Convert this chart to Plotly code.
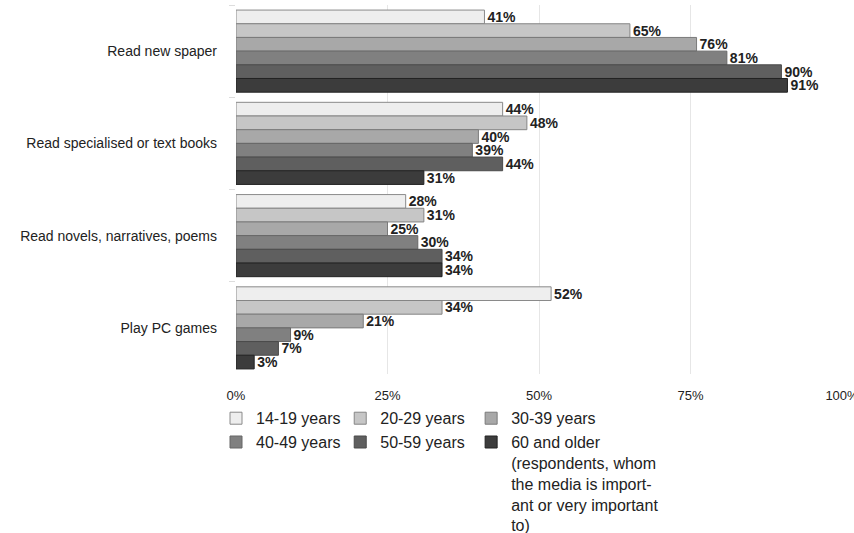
import plotly.graph_objects as go

# Share of respondents per activity, by age group (%)
activities = [
    "Read new spaper",
    "Read specialised or text books",
    "Read novels, narratives, poems",
    "Play PC games",
]
age_groups = [
    "14-19 years",
    "20-29 years",
    "30-39 years",
    "40-49 years",
    "50-59 years",
    "60 and older<br>(respondents, whom<br>the media is import-<br>ant or very important<br>to)",
]
share_14_19 = [41, 44, 28, 52]
share_20_29 = [65, 48, 31, 34]
share_30_39 = [76, 40, 25, 21]
share_40_49 = [81, 39, 30, 9]
share_50_59 = [90, 44, 34, 7]
share_60_plus = [91, 31, 34, 3]
x_ticks = [0, 25, 50, 75, 100]
x_tick_labels = ["0%", "25%", "50%", "75%", "100%"]

series = [share_14_19, share_20_29, share_30_39, share_40_49, share_50_59, share_60_plus]
fills = ["#eeeeee", "#c6c6c6", "#a8a8a8", "#808080", "#5f5f5f", "#3c3c3c"]
outlines = ["#8a8a8a", "#858585", "#7a7a7a", "#666666", "#4a4a4a", "#222222"]
legend_ids = ["legend", "legend2", "legend3", "legend", "legend2", "legend3"]

FONT = "Liberation Sans, Arial, sans-serif"

fig = go.Figure()
for name, vals, fill, edge, lg in zip(age_groups, series, fills, outlines, legend_ids):
    fig.add_trace(go.Bar(
        y=activities,
        x=vals,
        name=name,
        orientation="h",
        marker=dict(color=fill, line=dict(color=edge, width=1)),
        text=[f"{v}%" for v in vals],
        texttemplate="%{text}",
        textposition="outside",
        textfont=dict(family=FONT, size=14, color="#222222", weight="bold"),
        constraintext="none",
        cliponaxis=False,
        legend=lg,
    ))

legend_common = dict(
    orientation="v",
    xanchor="left",
    yanchor="top",
    font=dict(family=FONT, size=16, color="#222222"),
    bgcolor="rgba(0,0,0,0)",
    valign="top",
    itemclick=False,
)

fig.update_layout(
    width=854,
    height=533,
    margin=dict(l=236, r=12, t=5, b=159, pad=0, autoexpand=False),
    paper_bgcolor="white",
    plot_bgcolor="white",
    barmode="group",
    bargap=0.11,
    bargroupgap=0,
    font=dict(family=FONT, size=13, color="#222222"),
    xaxis=dict(
        range=[0, 100],
        tickvals=x_ticks,
        ticktext=x_tick_labels,
        showgrid=True,
        gridcolor="#e6e6e6",
        gridwidth=1,
        zeroline=False,
        showline=False,
        ticks="",
        tickfont=dict(family=FONT, size=13, color="#222222"),
        ticklabelstandoff=12,
        ticklabeloverflow="allow",
        automargin=False,
    ),
    yaxis=dict(
        type="category",
        categoryorder="array",
        categoryarray=activities,
        autorange="reversed",
        showgrid=False,
        zeroline=False,
        showline=False,
        ticks="outside",
        tickson="boundaries",
        ticklen=6,
        tickcolor="#dddddd",
        tickfont=dict(family=FONT, size=14, color="#222222"),
        ticklabelstandoff=18,
        automargin=False,
    ),
    legend=dict(x=-0.033, y=-0.074, **legend_common),
    legend2=dict(x=0.172, y=-0.074, **legend_common),
    legend3=dict(x=0.388, y=-0.074, **legend_common),
)

fig.write_html("out.html")
